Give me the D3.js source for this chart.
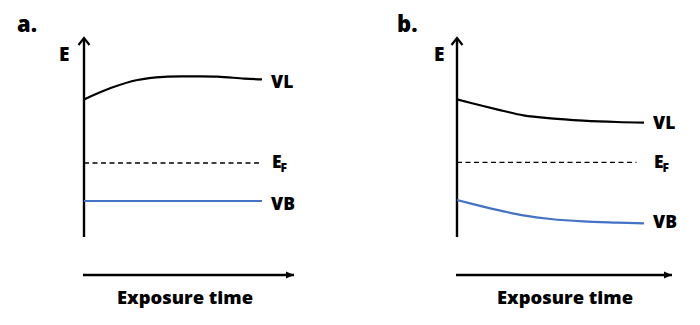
<!DOCTYPE html>
<html>
<head>
<meta charset="utf-8">
<script src="https://cdn.jsdelivr.net/npm/d3@7"></script>
<style>
  html, body { margin: 0; padding: 0; background: #fff; }
  svg text { font-family: "Open Sans", "DejaVu Sans", sans-serif; font-weight: 800; fill: #000; }
</style>
</head>
<body>
<svg id="chart" width="700" height="325"></svg>
<script>
// ---- data (arbitrary energy units, time normalised 0..1) ----
const panels = ["a.", "b."];
const axisLabelY = "E";
const axisLabelX = "Exposure time";

const vlTimeA = [0, 0.15, 0.3, 0.45, 0.6, 0.75, 0.9, 1.0];
const vlEnergyA = [68.8, 74.5, 78.5, 80.1, 80.3, 80.2, 79.2, 78.8];
const vbTimeA = [0, 1.0];
const vbEnergyA = [18, 18];
const efEnergyA = 37;
const efEndA = 1.0;

const vlTimeB = [0, 0.14, 0.25, 0.355, 0.5, 0.675, 0.855, 1.0];
const vlEnergyB = [68.8, 65.5, 63.0, 60.8, 59.3, 58.2, 57.5, 57.2];
const vbTimeB = [0, 0.14, 0.25, 0.355, 0.5, 0.675, 0.855, 1.0];
const vbEnergyB = [18.5, 15.2, 12.8, 10.8, 9.0, 7.8, 7.2, 6.8];
const efEnergyB = 37.3;
const efEndB = 0.96;

const seriesLabels = ["VL", "E", "VB"];

// ---- layout ----
const svg = d3.select("#chart");
const layouts = [
  { x0: 84, x1: 262, labelX: 271, xAxisEnd: 294, title: [17, 32], eLabel: [59, 61],
    vlT: vlTimeA, vlE: vlEnergyA, vbT: vbTimeA, vbE: vbEnergyA, ef: efEnergyA, efEnd: efEndA,
    vlLabelY: 88, efLabelY: 168, vbLabelY: 210, xLabelCx: 185 },
  { x0: 457, x1: 644, labelX: 653, xAxisEnd: 672, title: [397, 32], eLabel: [434, 61],
    vlT: vlTimeB, vlE: vlEnergyB, vbT: vbTimeB, vbE: vbEnergyB, ef: efEnergyB, efEnd: efEndB,
    vlLabelY: 129, efLabelY: 168, vbLabelY: 228, xLabelCx: 565 }
];

const defs = svg.append("defs");
defs.append("marker")
  .attr("id", "tri").attr("viewBox", "0 0 10 10")
  .attr("refX", 10).attr("refY", 5)
  .attr("markerWidth", 8).attr("markerHeight", 8)
  .attr("markerUnits", "userSpaceOnUse")
  .attr("orient", "auto")
  .append("path").attr("d", "M0,0.5 L10,5 L0,9.5 Z").attr("fill", "#000");

const y = d3.scaleLinear().domain([0, 100]).range([237, 37]);

layouts.forEach((L, i) => {
  const x = d3.scaleLinear().domain([0, 1]).range([L.x0, L.x1]);
  const g = svg.append("g");

  // panel title
  g.append("text").attr("x", L.title[0]).attr("y", L.title[1])
    .style("font-size", "22px").text(panels[i]);

  // y axis with open arrowhead
  g.append("line").attr("x1", x(0)).attr("x2", x(0))
    .attr("y1", y(0)).attr("y2", y(100) + 1)
    .attr("stroke", "#000").attr("stroke-width", 2.4);
  g.append("path")
    .attr("d", `M${x(0) - 5.5},${y(100) + 8} L${x(0)},${y(100) + 1} L${x(0) + 5.5},${y(100) + 8}`)
    .attr("fill", "none").attr("stroke", "#000").attr("stroke-width", 2.2)
    .attr("stroke-linejoin", "miter");
  g.append("text").attr("x", L.eLabel[0]).attr("y", L.eLabel[1])
    .style("font-size", "19px").text(axisLabelY);

  // x axis with filled arrowhead
  g.append("line").attr("x1", x(0) - 1).attr("x2", L.xAxisEnd)
    .attr("y1", 275).attr("y2", 275)
    .attr("stroke", "#000").attr("stroke-width", 2.4)
    .attr("marker-end", "url(#tri)");
  g.append("text").attr("x", L.xLabelCx).attr("y", 304)
    .attr("text-anchor", "middle")
    .attr("textLength", 136).attr("lengthAdjust", "spacingAndGlyphs")
    .style("font-size", "18px").text(axisLabelX);

  const line = d3.line().x(d => x(d[0])).y(d => y(d[1])).curve(d3.curveCatmullRom.alpha(0.5));

  // VL
  g.append("path").datum(d3.zip(L.vlT, L.vlE)).attr("d", line)
    .attr("fill", "none").attr("stroke", "#000").attr("stroke-width", 2.2);
  // EF dashed
  g.append("line").attr("x1", x(0)).attr("x2", x(L.efEnd))
    .attr("y1", y(L.ef)).attr("y2", y(L.ef))
    .attr("stroke", "#000").attr("stroke-width", 1.3)
    .attr("stroke-dasharray", "5,3.5");
  // VB
  g.append("path").datum(d3.zip(L.vbT, L.vbE)).attr("d", line)
    .attr("fill", "none").attr("stroke", "#4472C4").attr("stroke-width", 2.2);

  // labels
  g.append("text").attr("x", L.labelX).attr("y", L.vlLabelY)
    .style("font-size", "17.5px").text(seriesLabels[0]);
  const ef = g.append("text").attr("x", L.labelX + 1).attr("y", L.efLabelY)
    .style("font-size", "17.5px");
  ef.append("tspan").text(seriesLabels[1]);
  ef.append("tspan").attr("dy", 4).attr("dx", -1).style("font-size", "12px").text("F");
  g.append("text").attr("x", L.labelX).attr("y", L.vbLabelY)
    .style("font-size", "17.5px").text(seriesLabels[2]);
});
</script>
</body>
</html>
